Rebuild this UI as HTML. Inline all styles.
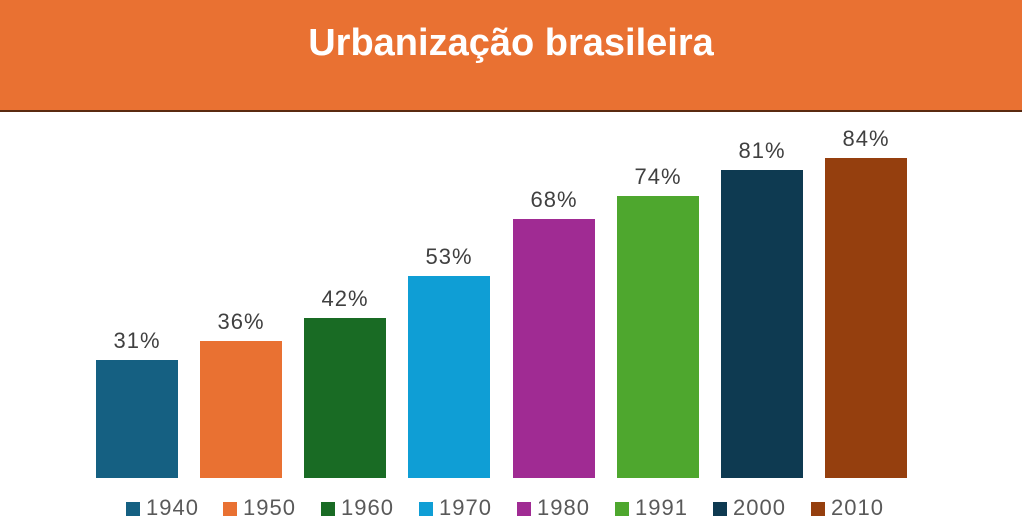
<!DOCTYPE html>
<html><head><meta charset="utf-8"><style>
body{margin:0;width:1022px;height:530px;background:#fff;font-family:"Liberation Sans",sans-serif;position:relative;overflow:hidden}
.hdr{position:absolute;left:0;top:0;width:1022px;height:110px;background:#E97132;border-bottom:2px solid #5a2a10;}
.hdr span{position:absolute;left:0;right:0;top:22px;text-align:center;color:#fff;font-weight:bold;font-size:38px}
.bar{position:absolute;width:82px}
.lbl{position:absolute;width:82px;text-align:center;font-size:22px;letter-spacing:1px;color:#404040}
.lg{position:absolute;top:496px;font-size:22px;letter-spacing:1px;color:#595959;line-height:24px;white-space:nowrap}
.lg i{display:inline-block;width:14px;height:14px;margin-right:6px;vertical-align:-1px}
</style></head><body>
<div class="hdr"><span>Urbanização brasileira</span></div>
<div class="bar" style="left:96px;top:360px;height:118px;background:#156082"></div>
<div class="bar" style="left:200px;top:341px;height:137px;background:#E97132"></div>
<div class="bar" style="left:304px;top:318px;height:160px;background:#196B24"></div>
<div class="bar" style="left:408px;top:276px;height:202px;background:#0F9ED5"></div>
<div class="bar" style="left:513px;top:219px;height:259px;background:#A02B93"></div>
<div class="bar" style="left:617px;top:196px;height:282px;background:#4EA72E"></div>
<div class="bar" style="left:721px;top:170px;height:308px;background:#0E3A51"></div>
<div class="bar" style="left:825px;top:158px;height:320px;background:#953F0E"></div>
<div class="lbl" style="left:96px;top:328px">31%</div>
<div class="lbl" style="left:200px;top:309px">36%</div>
<div class="lbl" style="left:304px;top:286px">42%</div>
<div class="lbl" style="left:408px;top:244px">53%</div>
<div class="lbl" style="left:513px;top:187px">68%</div>
<div class="lbl" style="left:617px;top:164px">74%</div>
<div class="lbl" style="left:721px;top:138px">81%</div>
<div class="lbl" style="left:825px;top:126px">84%</div>
<div class="lg" style="left:126px"><i style="background:#156082"></i>1940</div>
<div class="lg" style="left:223px"><i style="background:#E97132"></i>1950</div>
<div class="lg" style="left:321px"><i style="background:#196B24"></i>1960</div>
<div class="lg" style="left:419px"><i style="background:#0F9ED5"></i>1970</div>
<div class="lg" style="left:517px"><i style="background:#A02B93"></i>1980</div>
<div class="lg" style="left:615px"><i style="background:#4EA72E"></i>1991</div>
<div class="lg" style="left:713px"><i style="background:#0E3A51"></i>2000</div>
<div class="lg" style="left:811px"><i style="background:#953F0E"></i>2010</div>
</body></html>
